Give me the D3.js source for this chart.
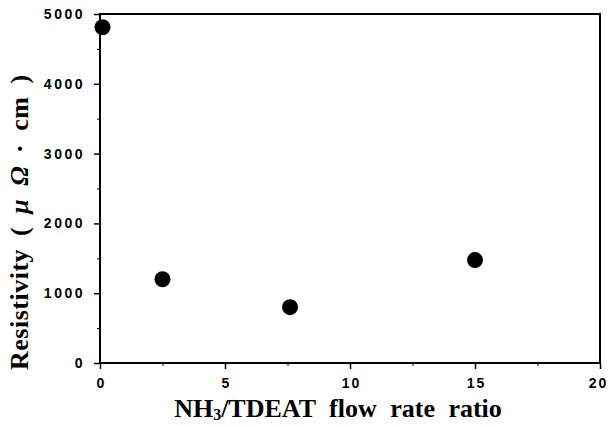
<!DOCTYPE html>
<html>
<head>
<meta charset="utf-8">
<script src="https://cdn.jsdelivr.net/npm/d3@7"></script>
<style>
  body { margin: 0; background: #fff; }
  .tick text { font-family: "Liberation Sans", Arial, sans-serif; font-weight: bold; font-size: 14px; letter-spacing: 2.5px; }
  .title { font-family: "Liberation Serif", "Times New Roman", serif; font-weight: bold; font-size: 26px; }
</style>
</head>
<body>
<svg id="chart"></svg>
<script>
// flow rate ratio NH3/TDEAT vs resistivity
var ratio = [0.1, 2.5, 7.6, 15.0];
var resistivity = [4810, 1200, 800, 1475];
var xTicks = [0, 5, 10, 15, 20];
var yTicks = [0, 1000, 2000, 3000, 4000, 5000];

var width = 609, height = 425;
var margin = { left: 100, right: 9, top: 14, bottom: 62 };

var svg = d3.select("#chart")
    .attr("width", width)
    .attr("height", height);

var x = d3.scaleLinear().domain([0, 20]).range([margin.left, width - margin.right]);
var y = d3.scaleLinear().domain([0, 5000]).range([height - margin.bottom, margin.top]);

// frame
svg.append("rect")
    .attr("x", x(0))
    .attr("y", y(5000))
    .attr("width", x(20) - x(0))
    .attr("height", y(0) - y(5000))
    .attr("fill", "none")
    .attr("stroke", "black")
    .attr("stroke-width", 2);

// minor ticks
var xMinor = svg.append("g")
    .attr("transform", "translate(0," + y(0) + ")")
    .call(d3.axisBottom(x).tickValues([2.5, 7.5, 12.5, 17.5]).tickSize(3).tickFormat(""));
xMinor.select(".domain").remove();

var yMinor = svg.append("g")
    .attr("transform", "translate(" + x(0) + ",0)")
    .call(d3.axisLeft(y).tickValues([500, 1500, 2500, 3500, 4500]).tickSize(3).tickFormat(""));
yMinor.select(".domain").remove();

// major axes
var xAxis = svg.append("g")
    .attr("transform", "translate(0," + y(0) + ")")
    .call(d3.axisBottom(x).tickValues(xTicks).tickSize(6).tickPadding(9).tickFormat(d3.format("d")));
xAxis.select(".domain").remove();
xAxis.selectAll("line").attr("stroke-width", 1.5);
xAxis.selectAll("text")
    .style("letter-spacing", "2px")
    .attr("dx", function(d) { return d == 20 ? "-2px" : "1px"; });

var yAxis = svg.append("g")
    .attr("transform", "translate(" + x(0) + ",0)")
    .call(d3.axisLeft(y).tickValues(yTicks).tickSize(6).tickPadding(9).tickFormat(d3.format("d")));
yAxis.select(".domain").remove();
yAxis.selectAll("line").attr("stroke-width", 1.5);

// data points
svg.selectAll("circle.pt")
    .data(ratio)
    .enter()
    .append("circle")
    .attr("class", "pt")
    .attr("cx", function(d) { return x(d); })
    .attr("cy", function(d, i) { return y(resistivity[i]); })
    .attr("r", 8)
    .attr("fill", "black");

// axis titles
var xTitle = svg.append("text")
    .attr("class", "title")
    .attr("x", 338)
    .attr("y", 417)
    .attr("text-anchor", "middle")
    .attr("word-spacing", "7px");
xTitle.append("tspan").text("NH");
xTitle.append("tspan").attr("font-size", "16px").attr("dy", "3").text("3");
xTitle.append("tspan").attr("dy", "-3").text("/TDEAT flow rate ratio");

var yTitle = svg.append("text")
    .attr("class", "title")
    .attr("transform", "translate(28,370) rotate(-90)")
    .attr("text-anchor", "start")
    .attr("font-size", "27px")
    .attr("word-spacing", "6px")
    .style("letter-spacing", "0.5px");
yTitle.append("tspan").text("Resistivity ( ");
yTitle.append("tspan").attr("font-style", "italic").text("\u03bc \u03a9");
yTitle.append("tspan").text(" \u00b7 cm )");
</script>
</body>
</html>
